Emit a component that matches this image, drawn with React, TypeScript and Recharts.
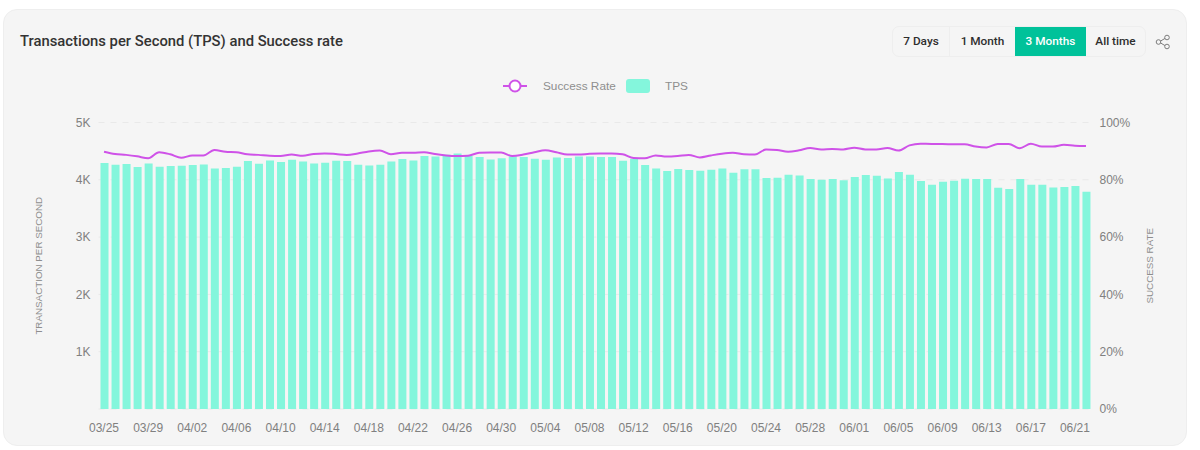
import { ComposedChart, Bar, Line, XAxis, YAxis, CartesianGrid, Legend } from 'recharts';

const startDates = [
  ['03', 25, 31],
  ['04', 1, 30],
  ['05', 1, 31],
  ['06', 1, 22],
];

const tpsValues = [
  4292, 4263, 4275, 4222, 4286, 4228, 4240, 4246, 4257, 4269, 4199, 4205, 4228, 4327, 4280, 4339, 4310, 4350,
  4321, 4286, 4298, 4333, 4327, 4263, 4251, 4263, 4321, 4362, 4339, 4414, 4408, 4438, 4461, 4414, 4397, 4356,
  4374, 4408, 4397, 4368, 4350, 4391, 4379, 4408, 4408, 4397, 4397, 4333, 4362, 4257, 4199, 4152, 4187, 4170,
  4158, 4176, 4199, 4123, 4182, 4182, 4030, 4036, 4088, 4077, 4013, 4001, 4013, 3990, 4048, 4083, 4071, 4024,
  4135, 4088, 3978, 3914, 3966, 3984, 4019, 4013, 4013, 3861, 3838, 4013, 3914, 3914, 3867, 3873, 3891, 3792,
];

const successRates = [
  89.8, 89.0, 88.7, 88.2, 87.5, 89.6, 88.9, 87.7, 88.5, 88.5, 90.4, 89.8, 89.6, 88.9, 88.7, 88.4, 88.3, 88.8,
  88.4, 89.0, 89.2, 89.0, 88.7, 89.2, 89.9, 90.2, 88.9, 89.4, 89.4, 89.6, 89.0, 88.5, 88.3, 88.4, 89.4, 89.5,
  89.5, 88.3, 88.8, 89.6, 90.3, 89.6, 88.8, 88.8, 89.1, 89.2, 89.2, 88.9, 87.6, 87.5, 88.5, 88.1, 88.3, 88.7,
  87.8, 88.5, 89.1, 89.4, 88.9, 88.8, 90.6, 90.4, 89.8, 90.3, 91.1, 90.6, 90.75, 90.6, 91.2, 90.6, 90.6, 91.1,
  90.2, 92.0, 92.6, 92.5, 92.5, 92.4, 92.4, 91.6, 91.3, 92.5, 92.5, 91.0, 92.6, 91.6, 91.6, 92.2, 91.9, 91.8,
];

const tpsTicks = [1000, 2000, 3000, 4000, 5000];
const rateTicks = [0, 20, 40, 60, 80, 100];
const ranges = ['7 Days', '1 Month', '3 Months', 'All time'];

const labels: string[] = [];
startDates.forEach(([month, from, to]) => {
  for (let d = from as number; d <= (to as number); d++) {
    labels.push(`${month}/${String(d).padStart(2, '0')}`);
  }
});

const data = labels.map((date, i) => ({ date, tps: tpsValues[i], rate: successRates[i] }));

const axisFont = 'Liberation Sans, Arial, sans-serif';
const uiFont = 'Roboto, sans-serif';

function ChartLegend() {
  return (
    <div style={{ position: 'relative', height: 20, fontFamily: axisFont, fontSize: 11.8, color: '#8e8e8e' }}>
      <svg width={26} height={16} style={{ position: 'absolute', left: 502, top: 3 }}>
        <line x1={1} y1={8} x2={25} y2={8} stroke="#cf52e8" strokeWidth={2} />
        <circle cx={13} cy={8} r={5.5} fill="#fff" stroke="#cf52e8" strokeWidth={2} />
      </svg>
      <span style={{ position: 'absolute', left: 543, top: 4 }}>Success Rate</span>
      <div style={{ position: 'absolute', left: 626, top: 4, width: 24, height: 14, borderRadius: 3, background: '#84f6dc' }} />
      <span style={{ position: 'absolute', left: 665, top: 4 }}>TPS</span>
    </div>
  );
}

export default function App() {
  return (
    <div style={{ position: 'absolute', left: 0, top: 0, width: 1200, height: 450, background: '#fff', overflow: 'hidden' }}>
      {/* Card */}
      <div
        style={{
          position: 'absolute',
          left: 3,
          top: 9,
          width: 1184,
          height: 437,
          boxSizing: 'border-box',
          background: '#f5f5f5',
          border: '1px solid #eeeeee',
          borderRadius: 14,
        }}
      />
      <div
        style={{
          position: 'absolute',
          left: 20,
          top: 32,
          fontFamily: uiFont,
          fontWeight: 500,
          fontSize: 14.8,
          lineHeight: '18px',
          color: '#333333',
          whiteSpace: 'nowrap',
        }}
      >
        Transactions per Second (TPS) and Success rate
      </div>

      {/* Range buttons */}
      <div
        style={{
          position: 'absolute',
          left: 892,
          top: 26,
          width: 254,
          height: 31,
          boxSizing: 'border-box',
          border: '1px solid #eeeeee',
          borderRadius: 7,
          overflow: 'hidden',
          display: 'flex',
          fontFamily: uiFont,
          fontWeight: 500,
          fontSize: 11.8,
          lineHeight: '29px',
          textAlign: 'center',
        }}
      >
        {ranges.map((r, i) => (
          <div
            key={r}
            style={{
              width: [57, 65, 71, 59][i],
              background: r === '3 Months' ? '#00c29a' : 'transparent',
              color: r === '3 Months' ? '#fff' : '#2e2e2e',
              borderRight: i === 0 ? '1px solid #eeeeee' : 'none',
              boxSizing: 'border-box',
            }}
          >
            {r}
          </div>
        ))}
      </div>
      <svg width={16} height={16} style={{ position: 'absolute', left: 1155, top: 34 }} fill="none" stroke="#7d7d7d" strokeWidth={1}>
        <line x1={4} y1={8} x2={11.5} y2={3.5} />
        <line x1={4} y1={8} x2={11.5} y2={12.5} />
        <circle cx={3.5} cy={8} r={2.3} fill="#f5f5f5" />
        <circle cx={12} cy={3.5} r={2.3} fill="#f5f5f5" />
        <circle cx={12} cy={12.5} r={2.3} fill="#f5f5f5" />
      </svg>

      <ComposedChart
        width={1200}
        height={450}
        data={data}
        margin={{ top: 102.5, right: 48.5, bottom: 11, left: 38.5 }}
        style={{ position: 'absolute', left: 0, top: 0 }}
      >
        <CartesianGrid vertical={false} yAxisId="tps" stroke="#e9e9e9" strokeDasharray="6 6" />
        <Legend verticalAlign="top" content={<ChartLegend />} wrapperStyle={{ left: 0, top: 75, width: 1200 }} />
        <XAxis
          dataKey="date"
          interval={3}
          height={30}
          axisLine={false}
          tickLine={false}
          tickMargin={8}
          tick={{ fontSize: 12, fill: '#808080', fontFamily: axisFont }}
        />
        <YAxis
          yAxisId="tps"
          domain={[0, 5000]}
          ticks={tpsTicks}
          width={60}
          axisLine={false}
          tickLine={false}
          tickMargin={8}
          tickSize={0}
          tickFormatter={(v: number) => `${v / 1000}K`}
          tick={{ fontSize: 12, fill: '#808080', fontFamily: axisFont }}
          label={{
            value: 'TRANSACTION PER SECOND',
            angle: -90,
            position: 'center',
            dx: -29.5,
            style: { fontSize: 9.8, fill: '#8e8e8e', fontFamily: axisFont },
          }}
        />
        <YAxis
          yAxisId="rate"
          orientation="right"
          domain={[0, 100]}
          ticks={rateTicks}
          width={60}
          axisLine={false}
          tickLine={false}
          tickMargin={8}
          tickSize={0}
          tickFormatter={(v: number) => `${v}%`}
          tick={{ fontSize: 12, fill: '#808080', fontFamily: axisFont }}
          label={{
            value: 'SUCCESS RATE',
            angle: -90,
            position: 'center',
            dx: 28.5,
            style: { fontSize: 9.8, fill: '#8e8e8e', fontFamily: axisFont },
          }}
        />
        <Bar yAxisId="tps" dataKey="tps" name="TPS" fill="#84f6dc" barSize={8} isAnimationActive={false} />
        <Line
          yAxisId="rate"
          dataKey="rate"
          name="Success Rate"
          type="monotone"
          stroke="#cf52e8"
          strokeWidth={2}
          dot={false}
          isAnimationActive={false}
        />
      </ComposedChart>
    </div>
  );
}
